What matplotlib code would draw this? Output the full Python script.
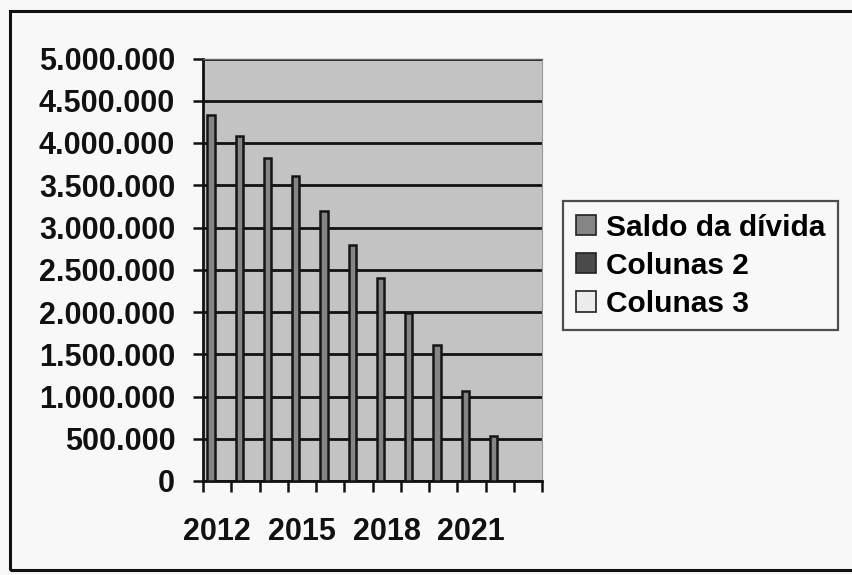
import matplotlib
matplotlib.use("Agg")
import matplotlib.pyplot as plt
from matplotlib.patches import Rectangle, Patch
import numpy as np

# ---- data ----
years = [2012, 2013, 2014, 2015, 2016, 2017, 2018, 2019, 2020, 2021, 2022, 2023]
saldo = [4330000, 4080000, 3820000, 3610000, 3190000, 2790000, 2400000,
         1990000, 1610000, 1070000, 530000, np.nan]
colunas2 = [np.nan] * len(years)
colunas3 = [np.nan] * len(years)
series_names = ["Saldo da dívida", "Colunas 2", "Colunas 3"]
series_colors = ["#858585", "#4a4a4a", "#ececec"]
xtick_labels = ["2012", "2015", "2018", "2021"]
yticks = list(range(0, 5000001, 500000))

plt.rcParams['font.family'] = ['Liberation Sans', 'DejaVu Sans']
plt.rcParams['font.weight'] = 'bold'

W, H = 852, 575
fig = plt.figure(figsize=(W / 100, H / 100), dpi=100, facecolor="#f8f8f8")

# outer frame
fig.patches.append(Rectangle((10 / W, 1 - 570 / H), 1.2, (570 - 11) / H,
                             transform=fig.transFigure, fill=False,
                             edgecolor="#111111", linewidth=2.2))

ax = fig.add_axes([203 / W, 1 - 481 / H, (542 - 203) / W, (481 - 58.5) / H])
ax.set_facecolor("#c3c3c3")
ax.set_axisbelow(True)

x = np.arange(len(years))
w = 0.25
offsets = [-0.217, 0.033, 0.283]
for vals, name, col, off in zip([saldo, colunas2, colunas3], series_names,
                                series_colors, offsets):
    ax.bar(x + off, vals, width=w, color=col, edgecolor="#151515",
           linewidth=1.8, label=name, zorder=3)

ax.set_xlim(-0.5, len(years) - 0.5)
ax.set_ylim(0, 5000000)

ax.set_yticks(yticks)
ax.set_yticklabels([f"{v:,}".replace(",", ".") for v in yticks])
ax.yaxis.grid(True, color="#111111", linewidth=2.0)
ax.tick_params(axis="y", length=7, width=1.8, pad=13, labelsize=22,
               colors="#111111")

# category boundary ticks
ax.set_xticks(np.arange(-0.5, len(years)))
ax.set_xticklabels([])
ax.tick_params(axis="x", which="major", length=8, width=1.8, colors="#111111")
lab_pos = [years.index(int(t)) for t in xtick_labels]
ax.set_xticks(lab_pos, minor=True)
ax.set_xticklabels(xtick_labels, minor=True)
ax.tick_params(axis="x", which="minor", length=0, pad=26, labelsize=22,
               labelcolor="#111111")

for s in ["left", "bottom"]:
    ax.spines[s].set_color("#111111")
    ax.spines[s].set_linewidth(2.0)
ax.spines["top"].set_color("#666666")
ax.spines["top"].set_linewidth(1.0)
ax.spines["right"].set_color("#999999")
ax.spines["right"].set_linewidth(0.8)

handles = [Patch(facecolor=c, edgecolor="#222222", linewidth=1.2)
           for c in series_colors]
leg = fig.legend(handles, series_names, loc="upper left",
                 bbox_to_anchor=(563 / W, 1 - 201 / H),
                 prop={"size": 21.5, "weight": "bold"},
                 frameon=True, fancybox=False, handlelength=0.68,
                 handleheight=0.68, handletextpad=0.35, borderpad=0.42,
                 labelspacing=0.34, borderaxespad=0)
leg.get_frame().set_edgecolor("#222222")
leg.get_frame().set_linewidth(1.6)
leg.get_frame().set_facecolor("#f8f8f8")

fig.savefig("out.png", dpi=100, facecolor=fig.get_facecolor())
